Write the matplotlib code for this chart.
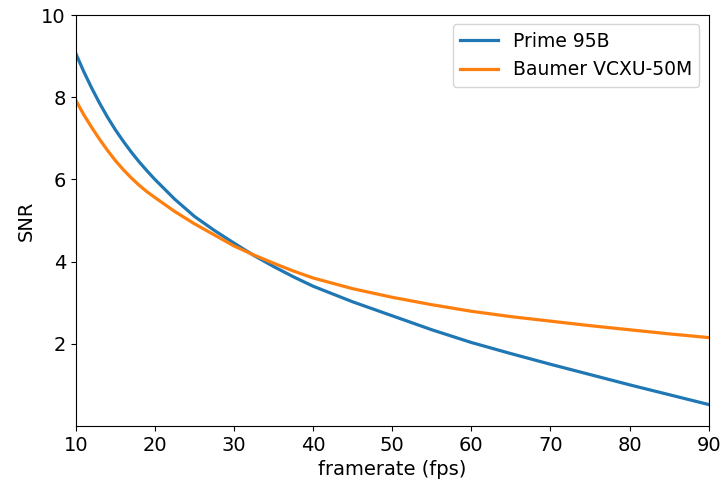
import matplotlib
matplotlib.use("Agg")
import matplotlib.pyplot as plt

# framerate (fps) y SNR
fps = [10, 11, 12, 13, 14, 15, 16, 17, 18, 19, 20, 22.5, 25, 27.5, 30, 32.5,
       35, 37.5, 40, 45, 50, 55, 60, 65, 70, 75, 80, 85, 90]
snr_prime = [9.07, 8.63, 8.23, 7.86, 7.52, 7.21, 6.93, 6.67, 6.43, 6.21, 6.0,
             5.52, 5.1, 4.76, 4.45, 4.15, 3.88, 3.63, 3.4, 3.02, 2.68, 2.34,
             2.03, 1.76, 1.5, 1.25, 1.0, 0.76, 0.52]
snr_baumer = [7.93, 7.58, 7.27, 6.98, 6.71, 6.46, 6.24, 6.04, 5.86, 5.70, 5.56,
              5.22, 4.92, 4.65, 4.38, 4.16, 3.96, 3.77, 3.6, 3.34, 3.13, 2.95,
              2.79, 2.66, 2.55, 2.44, 2.34, 2.24, 2.15]

fig = plt.figure(figsize=(7.21, 4.84), dpi=100)
ax = fig.add_axes([0.105, 0.12, 0.878, 0.849])

ax.plot(fps, snr_prime, color="#1f77b4", linewidth=2.3, label="Prime 95B")
ax.plot(fps, snr_baumer, color="#ff7f0e", linewidth=2.3, label="Baumer VCXU-50M")

ax.set_xlim(10, 90)
ax.set_ylim(0, 10)
ax.set_yticks([2, 4, 6, 8, 10])
ax.set_xlabel("framerate (fps)", fontsize=14)
ax.set_ylabel("SNR", fontsize=14)
ax.tick_params(labelsize=14)
ax.legend(loc="upper right", fontsize=13.5)

fig.savefig("out.png", dpi=100)
